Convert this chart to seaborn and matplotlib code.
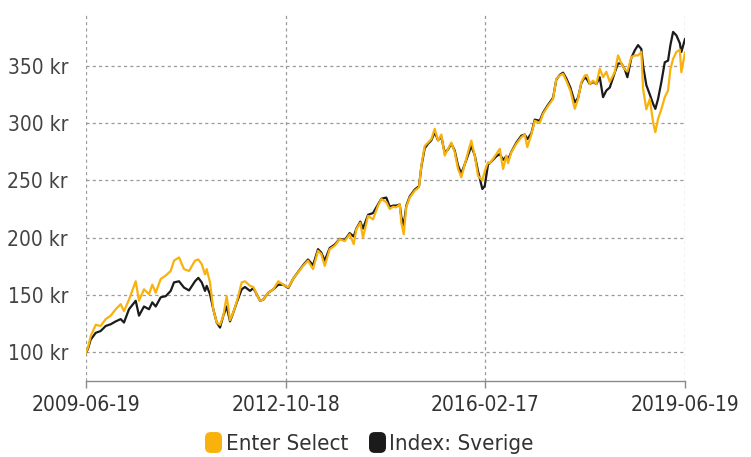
import matplotlib
matplotlib.use("Agg")
import matplotlib.pyplot as plt
from matplotlib.lines import Line2D
from matplotlib.path import Path
import pandas as pd
import seaborn as sns

# Series values (kr), sampled at time offsets in years after the start date
start_date = "2009-06-19"
end_date = "2019-06-19"
years_since_start = [
    0.000, 0.033, 0.078, 0.162, 0.245, 0.329, 0.412, 0.496, 0.579, 0.634,
    0.718, 0.830, 0.885, 0.968, 1.052, 1.107, 1.164, 1.247, 1.331, 1.414,
    1.469, 1.553, 1.636, 1.720, 1.820, 1.875, 1.932, 1.987, 2.015, 2.070,
    2.125, 2.182, 2.237, 2.292, 2.349, 2.404, 2.459, 2.516, 2.599, 2.654,
    2.738, 2.793, 2.850, 2.905, 2.960, 3.043, 3.127, 3.210, 3.294, 3.377,
    3.456, 3.539, 3.623, 3.706, 3.790, 3.873, 3.928, 3.985, 4.068, 4.152,
    4.235, 4.319, 4.402, 4.469, 4.513, 4.579, 4.624, 4.708, 4.791, 4.875,
    4.930, 5.013, 5.070, 5.125, 5.180, 5.237, 5.264, 5.304, 5.347, 5.404,
    5.487, 5.559, 5.598, 5.654, 5.710, 5.765, 5.821, 5.876, 5.932, 5.988,
    6.043, 6.098, 6.155, 6.210, 6.265, 6.322, 6.377, 6.432, 6.489, 6.544,
    6.616, 6.656, 6.711, 6.740, 6.795, 6.850, 6.907, 6.962, 7.017, 7.045,
    7.100, 7.184, 7.267, 7.324, 7.367, 7.434, 7.491, 7.574, 7.629, 7.713,
    7.796, 7.851, 7.908, 7.963, 8.018, 8.085, 8.159, 8.214, 8.269, 8.326,
    8.364, 8.409, 8.464, 8.519, 8.576, 8.631, 8.686, 8.743, 8.826, 8.881,
    8.937, 8.993, 9.037, 9.104, 9.160, 9.215, 9.270, 9.299, 9.354, 9.411,
    9.466, 9.504, 9.549, 9.604, 9.661, 9.716, 9.755, 9.800, 9.855, 9.912,
    9.938, 10.000,
]
enter_select = [
    100, 104, 114, 124, 123, 129, 132, 137.6, 142, 136,
    146, 162, 145, 155, 150.7, 159, 152, 164, 167, 171,
    180, 182.8, 172.6, 171, 180, 181, 177, 168, 172.6, 161,
    137.6, 126, 124, 132, 149, 128, 135, 144, 161, 162,
    158, 157, 151, 145, 146, 152, 155, 162, 159, 156.5,
    164, 169.7, 175.4, 180, 172.6, 188.6, 185.7, 175.4, 190, 193,
    198.8, 197, 203, 194.4, 207.5, 213, 200, 219, 216, 228,
    233.7, 231, 225, 227, 226.5, 229, 213, 203, 227, 235,
    241, 244, 263, 280, 283, 286, 295, 284.7, 290, 271.6,
    277.5, 283, 274.6, 260, 252.7, 264, 274.6, 284.7, 271.6, 254,
    250, 258, 265.8, 265, 268.7, 273, 277.5, 260, 271.6, 265,
    274.6, 282, 287.7, 290, 279, 290, 302, 300, 308, 315,
    321, 338.6, 341.5, 343, 337, 328.4, 312.4, 321, 335.7, 341.5,
    342, 334, 337, 334, 347.4, 340, 344.7, 336, 344.4, 359,
    352, 347, 345, 357.6, 359, 359, 362, 330, 312, 321,
    300.8, 292, 303.7, 312, 322.6, 328.4, 347, 356, 362, 364,
    344.4, 362,
]
index_sverige = [
    100, 103, 111, 117, 118.6, 123, 124.5, 127, 129, 126,
    137.6, 145, 132, 140, 137.6, 143.6, 140, 148, 149, 153.6,
    161, 162, 156.5, 154, 162, 165, 161, 153.6, 158, 150.7,
    137.6, 126, 121.6, 132, 140, 127, 134.7, 143.4, 155, 157,
    153.6, 156, 150.7, 145, 146, 152, 155, 159, 159, 156,
    164, 170, 176, 181, 176, 190, 187, 180, 191, 194,
    199, 198, 204, 201, 208, 214, 208, 220, 221.5, 229,
    234, 235, 227, 228, 228, 229, 218, 211, 228, 236,
    242, 245, 262, 278, 282, 285, 292, 285, 288, 274,
    277, 282, 276, 263, 256, 264, 272, 280, 272, 258,
    242.5, 245, 264, 265, 268, 271, 273, 268, 271, 268,
    275, 283, 289, 290, 286, 291, 303, 302, 309, 316,
    322, 338, 342, 344, 339, 331, 318, 322, 335, 340,
    338, 334, 336, 334, 340, 322.6, 328.4, 331, 344, 352,
    352, 347, 340, 357, 363.4, 368, 364.6, 350, 333, 325,
    316.8, 312.4, 321, 335.7, 353, 354.5, 368, 379.5, 376.5, 369.7,
    362, 373.6,
]
series_names = ["Enter Select", "Index: Sverige"]
series_colors = ["#F9B10C", "#1B1B1B"]
y_ticks = [100, 150, 200, 250, 300, 350]
x_tick_labels = ["2009-06-19", "2012-10-18", "2016-02-17", "2019-06-19"]

t0 = pd.Timestamp(start_date)
dates = [t0 + pd.Timedelta(days=y * 365.25) for y in years_since_start]
df = pd.concat([
    pd.DataFrame({"Datum": dates, "Värde": enter_select, "Serie": series_names[0]}),
    pd.DataFrame({"Datum": dates, "Värde": index_sverige, "Serie": series_names[1]}),
])

sns.set_theme(style="white")
plt.rcParams["font.family"] = ["DejaVu Sans"]
plt.rcParams["font.stretch"] = "condensed"

fig = plt.figure(figsize=(7.51, 4.57), dpi=100)
ax = fig.add_axes([0.1145, 0.1663, 0.7976, 0.8027])

palette = dict(zip(series_names, series_colors))
# Index first, fund drawn above it
sns.lineplot(data=df[df["Serie"] == series_names[1]], x="Datum", y="Värde",
             color=palette[series_names[1]], linewidth=1.6, ax=ax, zorder=3)
sns.lineplot(data=df[df["Serie"] == series_names[0]], x="Datum", y="Värde",
             color=palette[series_names[0]], linewidth=1.6, ax=ax, zorder=4)

ax.set_xlim(pd.Timestamp(start_date), pd.Timestamp(end_date))
ax.set_ylim(75, 395)
ax.set_xticks([pd.Timestamp(s) for s in x_tick_labels])
ax.set_xticklabels(x_tick_labels)
ax.set_yticks(y_ticks)
ax.set_yticklabels([f"{v} kr" for v in y_ticks])
ax.set_xlabel("")
ax.set_ylabel("")

for s in ["top", "right", "left"]:
    ax.spines[s].set_visible(False)
ax.spines["bottom"].set_color("#8a8a8a")
ax.spines["bottom"].set_linewidth(1.0)

ax.grid(True, axis="both", color="#9a9a9a", linestyle=(0, (2.5, 2.5)), linewidth=0.9)
ax.set_axisbelow(True)

ax.tick_params(axis="x", which="both", bottom=True, length=5, width=1,
               color="#8a8a8a", labelsize=15, labelcolor="#333333", pad=5)
ax.tick_params(axis="y", which="both", left=False, length=0, labelsize=15,
               labelcolor="#444444", pad=13)

# Rounded, slightly tall legend swatch
k = 0.25
swatch = Path(
    [(-0.4 + k, -0.5), (0.4 - k, -0.5), (0.4, -0.5), (0.4, -0.5 + k),
     (0.4, 0.5 - k), (0.4, 0.5), (0.4 - k, 0.5), (-0.4 + k, 0.5),
     (-0.4, 0.5), (-0.4, 0.5 - k), (-0.4, -0.5 + k), (-0.4, -0.5),
     (-0.4 + k, -0.5), (-0.4 + k, -0.5)],
    [Path.MOVETO, Path.LINETO, Path.CURVE3, Path.CURVE3, Path.LINETO,
     Path.CURVE3, Path.CURVE3, Path.LINETO, Path.CURVE3, Path.CURVE3,
     Path.LINETO, Path.CURVE3, Path.CURVE3, Path.CLOSEPOLY],
)
handles = [Line2D([0], [0], marker=swatch, linestyle="none", markersize=14,
                  markerfacecolor=c, markeredgecolor=c) for c in series_colors]
fig.legend(handles, series_names, loc="center", bbox_to_anchor=(0.49, 0.028),
           ncol=2, frameon=False, fontsize=16, handletextpad=0.05,
           handlelength=1.0, columnspacing=0.8, labelcolor="#333333")

fig.savefig("out.png", dpi=100)
